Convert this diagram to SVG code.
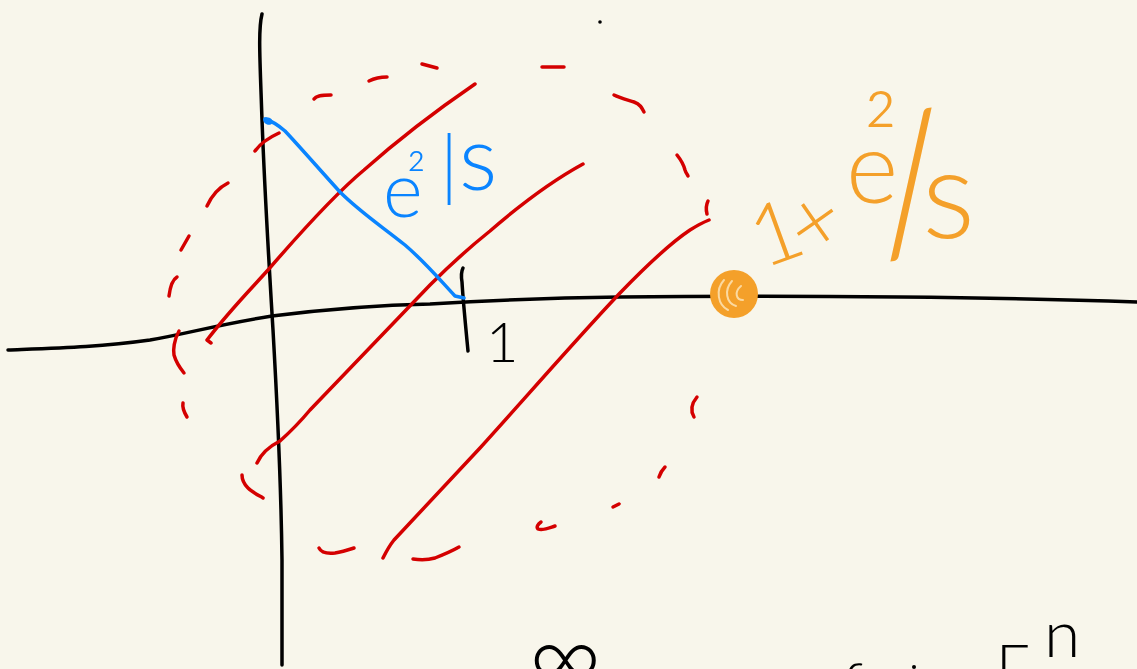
<svg xmlns="http://www.w3.org/2000/svg" width="1137" height="669" viewBox="0 0 1137 669">
<style>
.ink{fill:none;stroke-linecap:round;stroke-linejoin:round}
.blk{stroke:#000;stroke-width:3.5}
.red{stroke:#d40000;stroke-width:3.5}
.blu{stroke:#0a84ff;stroke-width:3.5}
.lbl{font-family:Lato,"Liberation Sans",sans-serif;font-weight:300}
</style>
<rect width="1137" height="669" fill="#f8f6eb"/>
<g id="axes" class="ink blk">
<path d="M262,14 C258,30 260,60 262,120 C265,200 270,280 273,330 C277,400 281,480 282,560 L282,665"/>
<path d="M8,350 C60,348 100,347 150,340 C190,333 216,325 272,316 C320,310 380,305 430,304 C480,301 530,298 620,297 C700,296 800,296 900,297 C1000,298 1080,300 1137,302"/>
<path d="M463,268 C461,272 461,276 462,282 C463,300 466,330 468,351"/>
<circle cx="600" cy="22" r="1.8" fill="#000" stroke="none"/>
</g>
<g id="red-lines" class="ink red">
<path d="M211,343 L207,340 C230,310 250,290 268,270 C300,233 340,190 364,170 C400,138 437,110 475,84"/>
<path d="M257,463 C262,452 270,446 280,441 C290,432 300,422 310,410 L430,285 C450,265 470,247 490,231 C520,205 550,182 583,164"/>
<path d="M383,558 C387,550 390,545 394,540 L480,448 C520,404 580,335 620,293 C650,262 675,240 690,230 C698,225 704,222 709,220"/>
</g>
<g id="dashed-circle" class="ink red">
<path d="M279,133 C268,138 260,144 255,151"/>
<path d="M228,183 C220,187 212,195 207,206"/>
<path d="M189,236 L181,250"/>
<path d="M177,277 C172,280 170,288 169,296"/>
<path d="M179,331 C174,340 173,350 174,355 C176,362 180,368 184,373"/>
<path d="M183,403 C182,408 184,412 187,417"/>
<path d="M242,475 C242,480 244,484 248,488 C252,492 258,495 263,498"/>
<path d="M319,548 C321,552 326,554 335,553 C342,552 348,550 354,548"/>
<path d="M413,559 C420,560 428,560 435,558 C445,554 452,551 459,547"/>
<path d="M541,522 C538,524 536,527 538,529 C543,531 549,528 555,526"/>
<path d="M619,504 L613,507"/>
<path d="M665,467 C662,470 660,474 659,477"/>
<path d="M697,397 C692,403 690,410 694,417"/>
<path d="M314,99 C316,96 320,95 331,95"/>
<path d="M369,81 C375,78 380,77 387,77"/>
<path d="M422,64 L437,68"/>
<path d="M542,67 L564,67"/>
<path d="M614,95 C620,98 628,100 634,102 C640,104 642,108 644,112"/>
<path d="M677,155 C681,160 684,166 685,170 C686,173 687,174 688,176"/>
<path d="M708,201 C706,205 706,210 707,214"/>
</g>
<g id="blue-line">
<path class="ink blu" d="M265,119 C272,121 278,125 285,131 C300,147 320,170 340,192 C360,212 380,225 405,245 C425,262 440,280 455,296 L464,298"/>
<ellipse cx="268" cy="121" rx="5" ry="3.5" transform="rotate(25 268 121)" fill="#0a84ff"/>
</g>
<g id="label-e2s">
<text class="lbl" fill="#0a84ff"><tspan x="383" y="217" font-size="76">e</tspan><tspan x="407" y="197" font-size="56">²</tspan><tspan x="440" y="191" font-size="76">|</tspan><tspan x="459" y="190" font-size="90">s</tspan></text>
</g>
<g id="point">
<circle cx="734" cy="294" r="24" fill="#f4a02a"/>
<g class="ink" stroke="#fbd9a0" stroke-width="2">
<path d="M724,280 C715,290 718,305 728,310"/>
<path d="M732,281 C724,290 726,303 736,306"/>
<path d="M741,286 C734,292 736,300 743,300"/>
</g>
</g>
<g id="label-1e2s">
<text class="lbl" fill="#f4a02a"><tspan x="763" y="269" font-size="85" rotate="-20">1</tspan><tspan x="811" y="262" font-size="90" rotate="-35">+</tspan><tspan x="846" y="203" font-size="100">e</tspan><tspan x="864" y="172" font-size="100">²</tspan><tspan x="882" y="255" font-size="188" rotate="-10">/</tspan><tspan x="922" y="238" font-size="125">s</tspan></text>
</g>
<g id="tick-label">
<text class="lbl" x="486" y="362" font-size="56" fill="#000">1</text>
</g>
<g id="bottom-text">
<text class="lbl" fill="#000"><tspan x="528" y="690" font-size="100">∞</tspan><tspan x="832" y="712" font-size="60">∫</tspan><tspan x="996" y="687" font-size="60">Γ</tspan><tspan x="1044" y="657" font-size="66">n</tspan></text>
<circle cx="914" cy="667" r="2" fill="#000"/>
</g>
</svg>
